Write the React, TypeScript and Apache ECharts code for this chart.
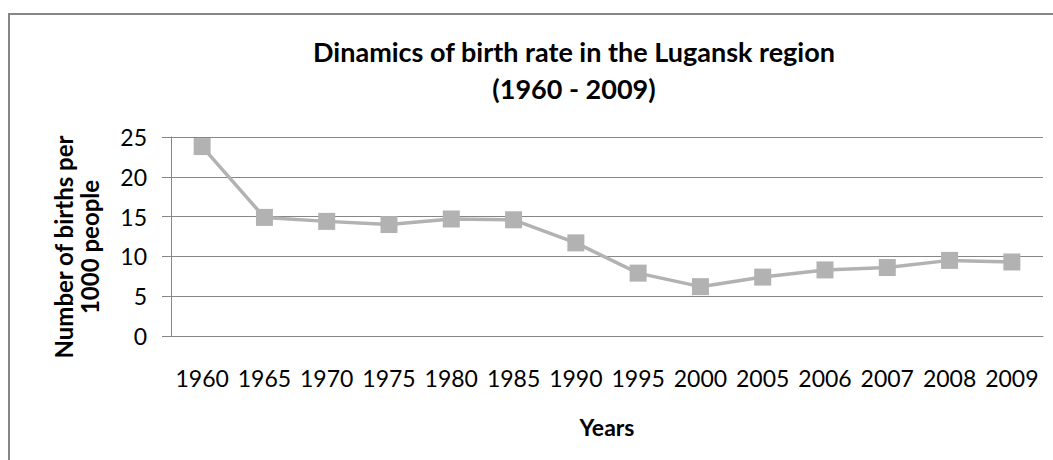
import React, { useEffect, useRef } from "react";
import * as echarts from "echarts";

const years = ["1960", "1965", "1970", "1975", "1980", "1985", "1990", "1995", "2000", "2005", "2006", "2007", "2008", "2009"];
const birthRate = [23.8, 14.9, 14.4, 14.0, 14.7, 14.6, 11.7, 7.9, 6.2, 7.4, 8.3, 8.6, 9.5, 9.3];
const titleLines = ["Dinamics of birth rate in the Lugansk region", "(1960 - 2009)"];
const yAxisTitle = ["Number of births per", "1000 people"];
const xAxisTitle = "Years";

const FONT = "Lato, 'Noto Sans', sans-serif";
const AXIS_GRAY = "#868686";
const LINE_GRAY = "#b2b2b2";

export default function App() {
  const ref = useRef<HTMLDivElement>(null);
  useEffect(() => {
    if (!ref.current) return;
    const chart = echarts.init(ref.current, undefined, { renderer: "svg" });
    chart.setOption({
      animation: false,
      backgroundColor: "#ffffff",
      textStyle: { fontFamily: FONT },
      grid: { left: 171, right: 10, top: 137, bottom: 124, containLabel: false },
      graphic: [
        {
          type: "rect",
          silent: true,
          shape: { x: 9, y: 14, width: 1300, height: 700 },
          style: { fill: "none", stroke: AXIS_GRAY, lineWidth: 2 },
        },
        {
          type: "text",
          x: 574,
          y: 70,
          style: {
            text: titleLines.join("\n"),
            fontFamily: FONT,
            fontWeight: "bold",
            fontSize: 27,
            lineHeight: 37,
            fill: "#000000",
            textAlign: "center",
            textVerticalAlign: "middle",
          },
        },
        {
          type: "text",
          x: 76,
          y: 247,
          rotation: Math.PI / 2,
          style: {
            text: yAxisTitle.join("\n"),
            fontFamily: FONT,
            fontWeight: "bold",
            fontSize: 24,
            lineHeight: 26,
            fill: "#000000",
            textAlign: "center",
            textVerticalAlign: "middle",
          },
        },
      ],
      xAxis: {
        type: "category",
        data: years,
        boundaryGap: true,
        name: xAxisTitle,
        nameLocation: "middle",
        nameGap: 79,
        nameTextStyle: { fontFamily: FONT, fontWeight: "bold", fontSize: 23, color: "#000000" },
        axisLine: { show: true, lineStyle: { color: AXIS_GRAY, width: 1 } },
        axisTick: { show: false },
        axisLabel: { fontFamily: FONT, fontSize: 23, color: "#000000", margin: 30, interval: 0 },
        splitLine: { show: false },
      },
      yAxis: {
        type: "value",
        min: 0,
        max: 25,
        interval: 5,
        axisLine: { show: true, lineStyle: { color: AXIS_GRAY, width: 1 } },
        axisTick: { show: true, length: 9, lineStyle: { color: AXIS_GRAY } },
        axisLabel: { fontFamily: FONT, fontSize: 23, color: "#000000", margin: 24 },
        splitLine: { show: true, lineStyle: { color: AXIS_GRAY, width: 1 } },
      },
      series: [
        {
          type: "line",
          data: birthRate,
          symbol: "rect",
          symbolSize: 17,
          lineStyle: { color: LINE_GRAY, width: 3.5 },
          itemStyle: { color: LINE_GRAY },
          emphasis: { disabled: true },
        },
      ],
    });
    return () => chart.dispose();
  }, []);
  return <div ref={ref} style={{ position: "absolute", left: 0, top: 0, width: 1053, height: 460 }} />;
}
